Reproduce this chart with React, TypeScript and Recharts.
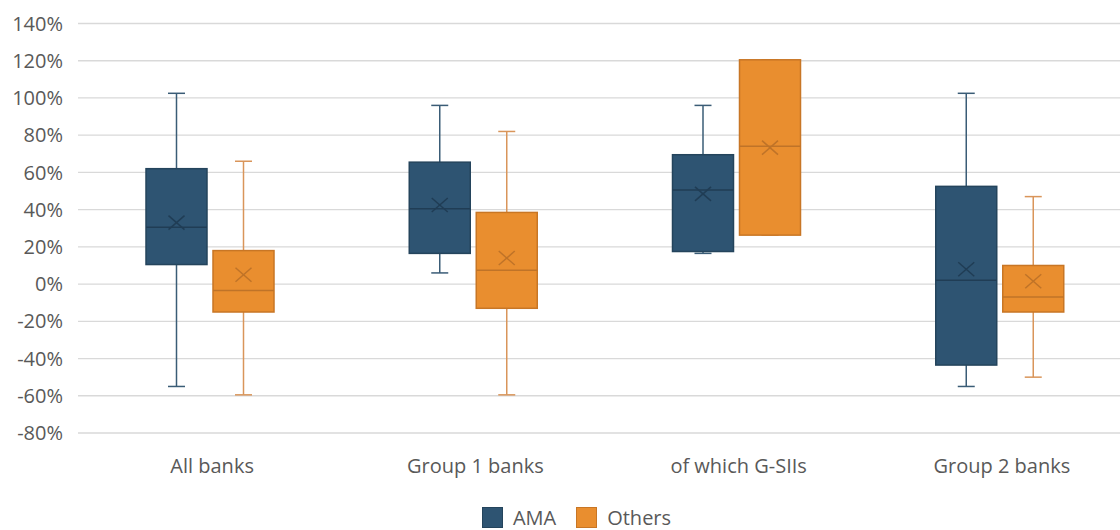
import React from "react";
import {
  ComposedChart,
  Bar,
  XAxis,
  YAxis,
  CartesianGrid,
  Legend,
} from "recharts";

const categories = ["All banks", "Group 1 banks", "of which G-SIIs", "Group 2 banks"];

const amaMin = [-55, 6, 16.5, -55];
const amaQ1 = [10.5, 16.5, 17.5, -43.5];
const amaMedian = [30.5, 40.5, 50.5, 2];
const amaMean = [33, 42.5, 48.5, 8];
const amaQ3 = [62, 65.5, 69.5, 52.5];
const amaMax = [102.5, 96, 96, 102.5];

const othMin = [-59.5, -59.5, 26.3, -50];
const othQ1 = [-15, -13, 26.3, -15];
const othMedian = [-3.5, 7.5, 74, -7];
const othMean = [5, 14, 73.3, 1.5];
const othQ3 = [18, 38.5, 120.5, 10];
const othMax = [66, 82, 120.5, 47];

const yTicks = [-80, -60, -40, -20, 0, 20, 40, 60, 80, 100, 120, 140];

const chartData = categories.map((name, i) => ({
  name,
  ama: { min: amaMin[i], q1: amaQ1[i], median: amaMedian[i], mean: amaMean[i], q3: amaQ3[i], max: amaMax[i] },
  oth: { min: othMin[i], q1: othQ1[i], median: othMedian[i], mean: othMean[i], q3: othQ3[i], max: othMax[i] },
}));

const AMA = { fill: "#2E5472", stroke: "#24445C", whisker: "#3A5C76", mark: "#203D55" };
const OTH = { fill: "#E98E2F", stroke: "#C87625", whisker: "#D9955A", mark: "#BF7328" };

const FONT = "'Open Sans', sans-serif";
const TEXT = "#595959";

const makeBoxShape = (key: "ama" | "oth", c: typeof AMA) => (props: any) => {
  const { x, y, width, height, payload } = props;
  const s = payload[key];
  const top = Math.min(y, y + height);
  const bottom = Math.max(y, y + height);
  // map a value into pixels using the bar's own [min, max] extent
  const py = (v: number) => top + ((s.max - v) / (s.max - s.min)) * (bottom - top);
  const cx = x + width / 2;
  const cap = 8.5;
  const yq3 = py(s.q3);
  const yq1 = py(s.q1);
  const ym = py(s.median);
  const yMean = py(s.mean);
  return (
    <g>
      <line x1={cx} x2={cx} y1={top} y2={yq3} stroke={c.whisker} strokeWidth={1.5} />
      <line x1={cx} x2={cx} y1={yq1} y2={bottom} stroke={c.whisker} strokeWidth={1.5} />
      <line x1={cx - cap} x2={cx + cap} y1={top} y2={top} stroke={c.whisker} strokeWidth={1.5} />
      <line x1={cx - cap} x2={cx + cap} y1={bottom} y2={bottom} stroke={c.whisker} strokeWidth={1.5} />
      <rect
        x={x}
        y={yq3}
        width={width}
        height={yq1 - yq3}
        fill={c.fill}
        stroke={c.stroke}
        strokeWidth={1.5}
      />
      <line x1={x} x2={x + width} y1={ym} y2={ym} stroke={c.mark} strokeWidth={1.5} />
      <line x1={cx - 8} x2={cx + 8} y1={yMean - 7} y2={yMean + 7} stroke={c.mark} strokeWidth={1.5} />
      <line x1={cx - 8} x2={cx + 8} y1={yMean + 7} y2={yMean - 7} stroke={c.mark} strokeWidth={1.5} />
    </g>
  );
};

const renderLegend = () => (
  <div
    style={{
      display: "flex",
      justifyContent: "center",
      alignItems: "center",
      paddingLeft: 22,
      paddingTop: 2,
      fontFamily: FONT,
      fontSize: 20,
      color: TEXT,
    }}
  >
    {[
      { label: "AMA", c: AMA },
      { label: "Others", c: OTH },
    ].map((item, i) => (
      <div key={item.label} style={{ display: "flex", alignItems: "center", marginLeft: i ? 20 : 0 }}>
        <span
          style={{
            display: "inline-block",
            width: 19,
            height: 19,
            background: item.c.fill,
            border: `1px solid ${item.c.stroke}`,
            marginRight: 10,
          }}
        />
        <span style={{ lineHeight: "20px" }}>{item.label}</span>
      </div>
    ))}
  </div>
);

const App = () => {
  return (
    <div
      style={{
        position: "absolute",
        left: 0,
        top: 0,
        width: 1120,
        height: 530,
        overflow: "hidden",
        background: "#fff",
      }}
    >
      <ComposedChart
        width={1131}
        height={541}
        data={chartData}
        margin={{ top: 23.5, right: 0, left: 0, bottom: 0 }}
        barSize={61}
        barGap={6}
      >
        <CartesianGrid vertical={false} stroke="#D9D9D9" strokeWidth={1.3} />
        <XAxis
          dataKey="name"
          axisLine={false}
          tickLine={false}
          height={72}
          tickMargin={20}
          interval={0}
          tick={{ fill: TEXT, fontSize: 20, fontFamily: FONT, dx: 2.5 }}
        />
        <YAxis
          domain={[-80, 140]}
          ticks={yTicks}
          width={78}
          axisLine={false}
          tickLine={false}
          tickMargin={9}
          interval={0}
          tickFormatter={(v: number) => `${v}%`}
          tick={{ fill: TEXT, fontSize: 20, fontFamily: FONT }}
        />
        <Legend verticalAlign="bottom" height={36} content={renderLegend} />
        <Bar
          dataKey={(d: any) => [d.ama.min, d.ama.max]}
          name="AMA"
          fill={AMA.fill}
          shape={makeBoxShape("ama", AMA)}
          isAnimationActive={false}
        />
        <Bar
          dataKey={(d: any) => [d.oth.min, d.oth.max]}
          name="Others"
          fill={OTH.fill}
          shape={makeBoxShape("oth", OTH)}
          isAnimationActive={false}
        />
      </ComposedChart>
    </div>
  );
};

export default App;
